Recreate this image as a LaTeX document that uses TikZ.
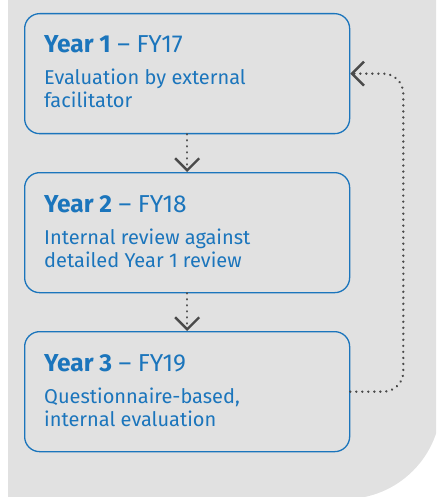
\documentclass[tikz,border=0pt]{standalone}
\usepackage{fontspec}
\setmainfont{Fira Sans}
\usetikzlibrary{arrows.meta}
\definecolor{bg}{HTML}{E1E1E1}
\definecolor{blu}{HTML}{1B75BC}
\definecolor{dotc}{HTML}{4A4A4A}
\begin{document}
\begin{tikzpicture}[x=1pt,y=-1pt,
  yearbox/.style={draw=blu, line width=1.3pt, rounded corners=15pt, minimum width=325pt, minimum height=120pt, anchor=north west, inner sep=0pt},
  ttl/.style={anchor=base west, text=blu, font=\fontsize{24.5}{24.5}\selectfont, inner sep=0pt},
  body/.style={anchor=base west, text=blu, font=\fontsize{20}{23}\selectfont, inner sep=0pt},
  flow/.style={dotc, line width=2.6pt, dash pattern=on 0.01pt off 6pt, line cap=round,
    -{Straight Barb[length=12pt,width=24pt,line width=2.4pt]}}
]
\useasboundingbox (0,0) rectangle (436,497);
\begin{scope}
  \clip (0,0) rectangle (436,497);
  \fill[bg] (8,-20) -- (441,-20) -- (441,403) arc[start angle=0,end angle=90,radius=96] -- (8,499) -- cycle;
\end{scope}
\node[yearbox] (b1) at (24,13) {};
\node[yearbox] (b2) at (24,172) {};
\node[yearbox] (b3) at (24,331) {};
\node[ttl] (t1) at ([xshift=20pt,yshift=-40pt]b1.north west) {\textbf{Year 1} – FY17};
\node[ttl] (t2) at ([xshift=20pt,yshift=-40pt]b2.north west) {\textbf{Year 2} – FY18};
\node[ttl] (t3) at ([xshift=20pt,yshift=-40pt]b3.north west) {\textbf{Year 3} – FY19};
\node[body] (d1a) at ([xshift=20pt,yshift=-72pt]b1.north west) {Evaluation by external};
\node[body] (d1b) at ([xshift=20pt,yshift=-95pt]b1.north west) {facilitator};
\node[body] (d2a) at ([xshift=20pt,yshift=-72pt]b2.north west) {Internal review against};
\node[body] (d2b) at ([xshift=20pt,yshift=-95pt]b2.north west) {detailed Year 1 review};
\node[body] (d3a) at ([xshift=20pt,yshift=-72pt]b3.north west) {Questionnaire-based,};
\node[body] (d3b) at ([xshift=20pt,yshift=-95pt]b3.north west) {internal evaluation};
\draw[flow] (b1.south) -- (b2.north);
\draw[flow] (b2.south) -- (b3.north);
\draw[flow, rounded corners=20pt] (b3.east) -- ++(53,0) |- (b1.east);
\end{tikzpicture}
\end{document}
